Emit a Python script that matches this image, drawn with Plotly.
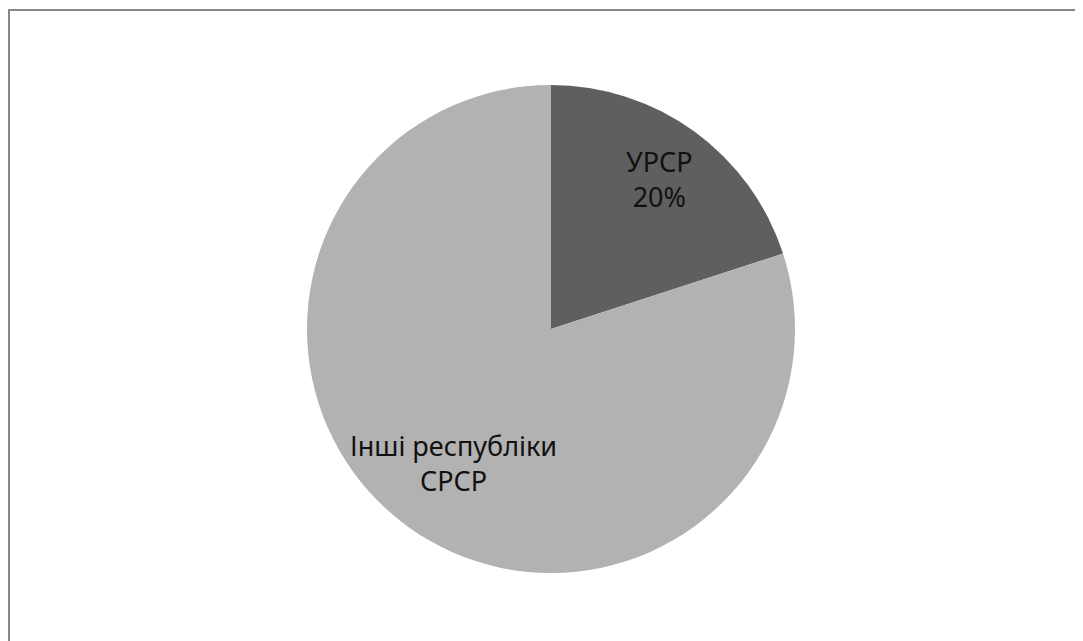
import math
import plotly.graph_objects as go

categories = ["УРСР", "Інші республіки СРСР"]
values = [20, 80]
slice_text = ["УРСР<br>20%", "Інші республіки<br>СРСР"]
colors = ["#5f5f5f", "#b2b2b2"]

W, H = 1083, 641
off = 8  # page body margin
cx, cy, r = 551 - off, 329 - off, 244
label_radius = (0.76, 0.68)  # layout: label distance from centre, as fraction of radius

fig = go.Figure(go.Pie(
    labels=categories,
    values=values,
    textinfo="none",
    sort=False,
    direction="clockwise",
    rotation=0,
    hoverinfo="label+percent",
    marker=dict(colors=colors, line=dict(width=0)),
    domain=dict(x=[(cx - r) / W, (cx + r) / W], y=[(H - cy - r) / H, (H - cy + r) / H]),
    showlegend=False,
))

# place the slice labels along each slice's mid-angle (computed from the values)
total = sum(values)
start = 0.0
for txt, v, fr in zip(slice_text, values, label_radius):
    mid = (start + v / 2) / total * 2 * math.pi
    start += v
    px = cx + fr * r * math.sin(mid)
    py = cy - fr * r * math.cos(mid)
    fig.add_annotation(x=px / W, y=1 - py / H, xref="paper", yref="paper",
                       text=txt, showarrow=False, xanchor="center", yanchor="middle",
                       font=dict(family="Noto Sans", size=27, color="#111111"))

fig.add_shape(type="rect", xref="paper", yref="paper",
              x0=1 / W, x1=1.02, y0=-0.02, y1=1 - 2 / H,
              line=dict(color="#868686", width=2), fillcolor="rgba(0,0,0,0)")

fig.update_layout(
    width=W, height=H,
    margin=dict(l=0, r=0, t=0, b=0),
    paper_bgcolor="white",
    plot_bgcolor="white",
    font=dict(family="Noto Sans"),
)

fig.write_html("out.html")
